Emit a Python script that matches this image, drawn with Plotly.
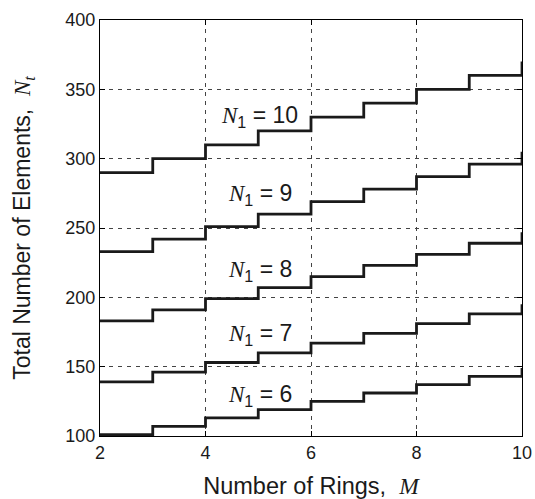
import plotly.graph_objects as go

rings = [2, 3, 4, 5, 6, 7, 8, 9, 10]
n1_values = [6, 7, 8, 9, 10]
nt_n1_6 = [101, 107, 113, 119, 125, 131, 137, 143, 149]
nt_n1_7 = [139, 146, 153, 160, 167, 174, 181, 188, 195]
nt_n1_8 = [183, 191, 199, 207, 215, 223, 231, 239, 247]
nt_n1_9 = [233, 242, 251, 260, 269, 278, 287, 296, 305]
nt_n1_10 = [290, 300, 310, 320, 330, 340, 350, 360, 370]
series = [nt_n1_6, nt_n1_7, nt_n1_8, nt_n1_9, nt_n1_10]

label_x = [5.03, 5.03, 5.03, 5.03, 5.03]
label_y = [129.5, 173, 219.5, 274, 330.5]

x_ticks = [2, 4, 6, 8, 10]
y_ticks = [100, 150, 200, 250, 300, 350, 400]

SANS = "Liberation Sans, Arial, sans-serif"
SERIF = "Liberation Serif, Times New Roman, serif"

fig = go.Figure()
for vals in series:
    fig.add_trace(go.Scatter(
        x=rings, y=vals, mode="lines", line_shape="hv",
        line=dict(color="#1a1a1a", width=2.8), showlegend=False,
        hoverinfo="skip",
    ))

for n1, lx, ly in zip(n1_values, label_x, label_y):
    fig.add_annotation(
        x=lx, y=ly, xref="x", yref="y", showarrow=False,
        text=f'<i><span style="font-family:{SERIF}">N</span></i><sub>1</sub> = {n1}',
        font=dict(family=SANS, size=23, color="#1a1a1a"),
        xanchor="center", yanchor="middle",
    )

axis_common = dict(
    showline=True, linecolor="black", linewidth=1, mirror="ticks",
    ticks="inside", ticklen=5, tickcolor="black",
    showgrid=True, gridcolor="#444444", gridwidth=1, griddash="4px,5px",
    zeroline=False, tickfont=dict(family=SANS, size=18, color="#1a1a1a"),
    automargin=False,
)

fig.update_xaxes(
    range=[2, 10], tickvals=x_ticks, ticktext=[str(v) for v in x_ticks],
    title=dict(text='Number of Rings,\u00a0\u00a0<i><span style="font-family:' + SERIF + '">M</span></i>',
               font=dict(family=SANS, size=23.5, color="#1a1a1a"), standoff=17),
    **axis_common,
)
fig.update_yaxes(
    range=[100, 400], tickvals=y_ticks, ticktext=[str(v) for v in y_ticks],
    title=dict(text='Total Number of Elements,\u00a0\u00a0<i><span style="font-family:' + SERIF + '">N</span></i><sub><i><span style="font-family:' + SERIF + '">t</span></i></sub>',
               font=dict(family=SANS, size=23, color="#1a1a1a"), standoff=28),
    **axis_common,
)

fig.update_layout(
    width=535, height=499,
    margin=dict(l=100, r=13, t=20, b=63),
    plot_bgcolor="white", paper_bgcolor="white",
)

fig.write_html(
    "out.html",
    config={"displayModeBar": False},
    post_script=(
        "document.body.style.margin='0';"
        "document.documentElement.style.overflow='hidden';"
        "document.body.style.overflow='hidden';"
    ),
)
